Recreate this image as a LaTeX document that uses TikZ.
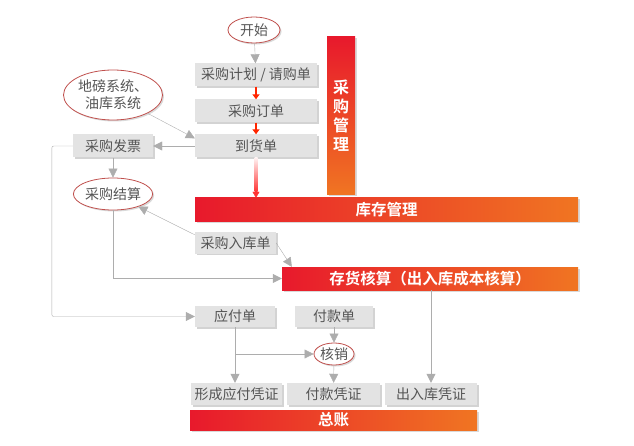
\documentclass[tikz,border=0pt]{standalone}
\usepackage{fontspec}
\setmainfont{Noto Sans CJK SC}[BoldFont={Noto Sans CJK SC Bold}]
\usepackage{xcolor}
\usepackage{tikz}
\usetikzlibrary{shapes,arrows.meta,positioning,shadows,calc}

\definecolor{boxgray}{HTML}{E3E3E3}
\definecolor{textgray}{HTML}{555555}
\definecolor{linegray}{HTML}{ADADAD}
\definecolor{ovalred}{HTML}{C0504D}
\definecolor{barred}{HTML}{E8192C}
\definecolor{barorange}{HTML}{F07522}

\begin{document}
\begin{tikzpicture}[x=1pt, y=-1pt, every node/.style={font=\fontsize{14}{16}\selectfont, text=textgray}]
  \tikzstyle{block} = [rectangle, fill=boxgray, minimum height=23pt, inner sep=0pt, drop shadow={shadow xshift=1.5pt, shadow yshift=-1.5pt, opacity=0.35}]
  \tikzstyle{oval} = [ellipse, draw=ovalred, thick, fill=white, inner sep=0pt, drop shadow={shadow xshift=1.5pt, shadow yshift=-1.5pt, opacity=0.3}]
  \tikzstyle{bar} = [rectangle, left color=barred, right color=barorange, text=white, inner sep=0pt, font=\fontsize{15.5}{17}\selectfont\bfseries, drop shadow={shadow xshift=1.5pt, shadow yshift=-1.5pt, opacity=0.3}]
  \tikzstyle{line} = [draw=linegray, -{Triangle[length=9pt, width=9pt]}]
  \tikzstyle{redline} = [draw=red!70!orange, line width=1.5pt, -{Triangle[length=5pt, width=7pt]}]

  \useasboundingbox (0,0) rectangle (634,446);

  % Purchase management
  \node[oval, minimum width=52pt, minimum height=26pt] (start) at (254,30) {开始};
  \node[block, minimum width=122pt] (plan) at (256,75) {采购计划 / 请购单};
  \node[block, minimum width=122pt] (order) at (256,111) {采购订单};
  \node[block, minimum width=122pt] (arrive) at (256,146) {到货单};
  \node[rectangle, top color=barred, bottom color=barorange, text=white, minimum width=28pt, minimum height=158pt, align=center, font=\fontsize{16}{19}\selectfont\bfseries, drop shadow={shadow xshift=1.5pt, shadow yshift=-1.5pt, opacity=0.3}] (purmgmt) at (341,116) {采\\购\\管\\理};

  % Left side
  \node[oval, minimum width=80pt, minimum height=50pt, align=center, font=\fontsize{14}{17}\selectfont] (scale) at (113,95) {地磅系统、\\油库系统};
  \node[block, minimum width=80pt] (invoice) at (113,146) {采购发票};
  \node[oval, minimum width=68pt, minimum height=32pt] (settle) at (113,194) {采购结算};

  % Stock layer
  \node[bar, minimum width=383pt, minimum height=24pt] (stock) at (386.5,210) {库存管理};
  \node[block, minimum width=81pt, minimum height=22pt] (instock) at (235.5,243) {采购入库单};
  \node[bar, minimum width=296pt, minimum height=23pt] (costing) at (430,278.5) {存货核算（出入库成本核算）};

  % Payables
  \node[block, minimum width=80pt, minimum height=21pt] (payable) at (235,316.5) {应付单};
  \node[block, minimum width=78pt, minimum height=21pt] (payment) at (334,316.5) {付款单};
  \node[oval, minimum width=40pt, minimum height=22pt] (writeoff) at (334,354) {核销};

  % Vouchers and ledger
  \node[block, minimum width=91pt, minimum height=22pt] (vpay) at (236.5,394) {形成应付凭证};
  \node[block, minimum width=93pt, minimum height=22pt] (vpaid) at (333.5,394) {付款凭证};
  \node[block, minimum width=92pt, minimum height=22pt] (vstock) at (431,394) {出入库凭证};
  \node[bar, minimum width=287pt, minimum height=20pt] (ledger) at (333.5,420) {总账};

  % Connections
  \draw[line] (start) -- (plan);
  \draw[redline] (plan) -- (order);
  \draw[redline] (order) -- (arrive);
  \shade[top color=red!5, bottom color=red!80] ([xshift=-1.5pt]arrive.south) rectangle ([xshift=1.5pt, yshift=6pt]arrive.south |- stock.north);
  \draw[draw=red!80, -{Triangle[length=6pt, width=7pt]}] ([yshift=6pt]arrive.south |- stock.north) -- (arrive.south |- stock.north);
  \draw[line] (scale) -- ($(arrive.north west)+(0,4)$);
  \draw[line] (arrive.west) -- (invoice.east);
  \draw[line] (invoice) -- (settle);
  \draw[line, rounded corners=2pt] (invoice.west) -- ++(-21,0) |- (payable.west);
  \draw[line] ($(instock.north west)+(0,3)$) -- (settle);
  \draw[line] (instock.east) -- ($(costing.north west)+(10,0)$);
  \draw[line] (settle.south) |- (costing.west);
  \draw[line] (costing.south -| vstock.north) -- (vstock.north);
  \draw[line] (payable.south) -- (payable.south |- vpay.north);
  \draw[line] (payable.south |- writeoff) -- (writeoff.west);
  \draw[line] (payment) -- (writeoff);
  \draw[line] (writeoff) -- (vpaid);
\end{tikzpicture}
\end{document}
